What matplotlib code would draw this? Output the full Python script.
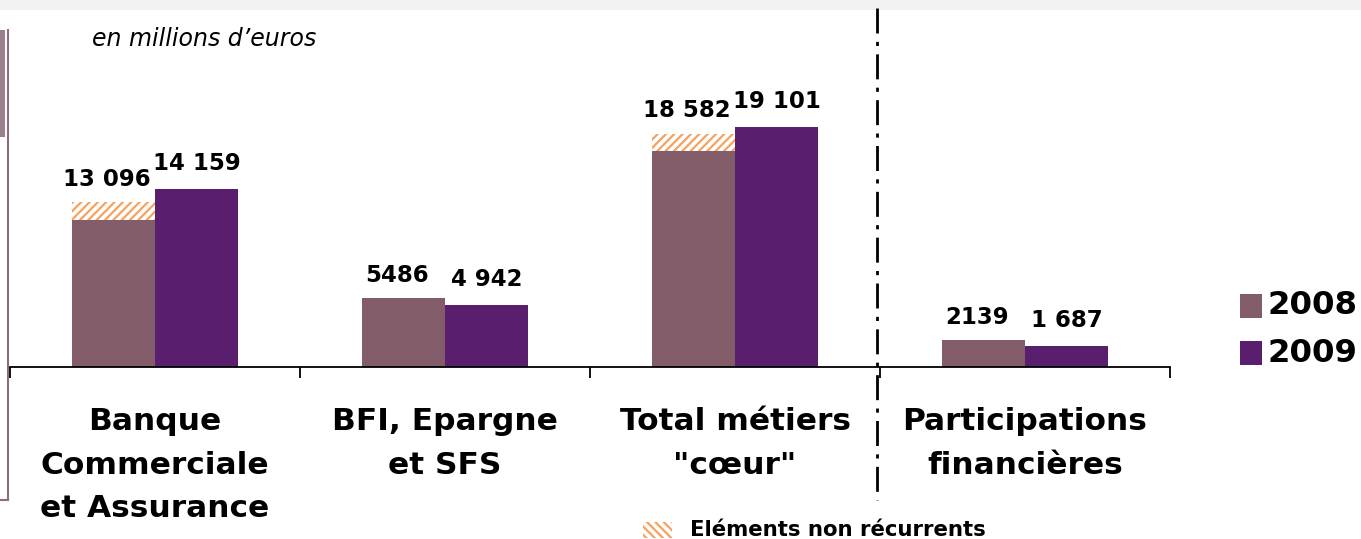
import matplotlib.pyplot as plt
from matplotlib.patches import Rectangle
from matplotlib.lines import Line2D

W, H = 1361, 539

categories = ['Banque\nCommerciale\net Assurance', 'BFI, Epargne\net SFS',
              'Total métiers\n"cœur"', 'Participations\nfinancières']
v2008 = [13096, 5486, 18582, 2139]
v2009 = [14159, 4942, 19101, 1687]
nonrec2008 = [1400, 0, 1400, 0]   # part "éléments non récurrents" (hachurée)
lab2008 = ['13 096', '5486', '18 582', '2139']
lab2009 = ['14 159', '4 942', '19 101', '1 687']

c08 = '#835C6A'
c09 = '#5A1E6F'
orange = '#F7A15F'

def fx(x):
    return x / W

def fy(y):
    return 1 - y / H

fig = plt.figure(figsize=(W / 100, H / 100), dpi=100)
ax = fig.add_axes([fx(10), fy(367), fx(1160), 367 / H])
ax.set_xlim(-0.5, 3.5)
ax.set_ylim(0, 29208)

bw = 0.286
x = list(range(len(categories)))
x08 = [i - bw / 2 for i in x]
x09 = [i + bw / 2 for i in x]
rec = [v - n for v, n in zip(v2008, nonrec2008)]

ax.bar(x08, rec, width=bw, color=c08, linewidth=0)
plt.rcParams['hatch.linewidth'] = 1.6
plt.rcParams['hatch.color'] = orange
ax.bar(x08, nonrec2008, bottom=rec, width=bw, color='white', edgecolor=orange,
       hatch='////', linewidth=0)
ax.bar(x09, v2009, width=bw, color=c09, linewidth=0)

for i in x:
    ax.annotate(lab2008[i], (x08[i], v2008[i]), xytext=(-5, 8), textcoords='offset points',
                ha='center', va='bottom', fontsize=16.5, fontweight='bold')
    ax.annotate(lab2009[i], (x09[i], v2009[i]), xytext=(0, 10), textcoords='offset points',
                ha='center', va='bottom', fontsize=16.5, fontweight='bold')
    ax.annotate(categories[i], (i, 0), xytext=(0, -29), textcoords='offset points',
                ha='center', va='top', fontsize=22.5, fontweight='bold', linespacing=1.62)

for s in ['top', 'right', 'left']:
    ax.spines[s].set_visible(False)
ax.spines['bottom'].set_linewidth(1.3)
ax.set_yticks([])
ax.set_xticks([-0.5, 0.5, 1.5, 2.5, 3.5])
ax.set_xticklabels([])
ax.tick_params(axis='x', direction='out', length=8, width=1.3)

# séparateur vertical
fig.add_artist(Line2D([fx(877), fx(877)], [fy(8), fy(500)], color='black', lw=2,
                      dashes=(9, 3, 1.5, 3)))

# bordure gauche et bandeau du haut
fig.add_artist(Line2D([fx(8), fx(8)], [fy(30), fy(500)], color='#8E6E7E', lw=1.5))
fig.add_artist(Rectangle((0, fy(137)), fx(5), (137 - 30) / H, transform=fig.transFigure,
                         color='#9A7F8C', lw=0))
fig.add_artist(Line2D([0, fx(8)], [fy(500), fy(500)], color='#8E6E7E', lw=1.5))
fig.add_artist(Rectangle((0, fy(10)), 1, 10 / H, transform=fig.transFigure,
                         color='#F2F2F2', lw=0))

fig.text(fx(92), fy(39), 'en millions d\u2019euros', fontsize=17, style='italic',
         va='center', ha='left')

# légende
for k, (col, lab) in enumerate([(c08, '2008'), (c09, '2009')]):
    yc = 306 + k * 47
    fig.add_artist(Rectangle((fx(1240), fy(yc + 12)), fx(22), 24 / H,
                             transform=fig.transFigure, color=col, lw=0))
    fig.text(fx(1268), fy(yc), lab, fontsize=23.3, fontweight='bold', va='center', ha='left')

fig.add_artist(Rectangle((fx(643), fy(538)), fx(29), 16 / H, transform=fig.transFigure,
                         facecolor='white', edgecolor=orange, hatch='\\\\\\\\', lw=0))
fig.text(fx(690), fy(530), 'Eléments non récurrents', fontsize=15.3, fontweight='bold',
         va='center', ha='left')

fig.savefig('out.png', dpi=100)
